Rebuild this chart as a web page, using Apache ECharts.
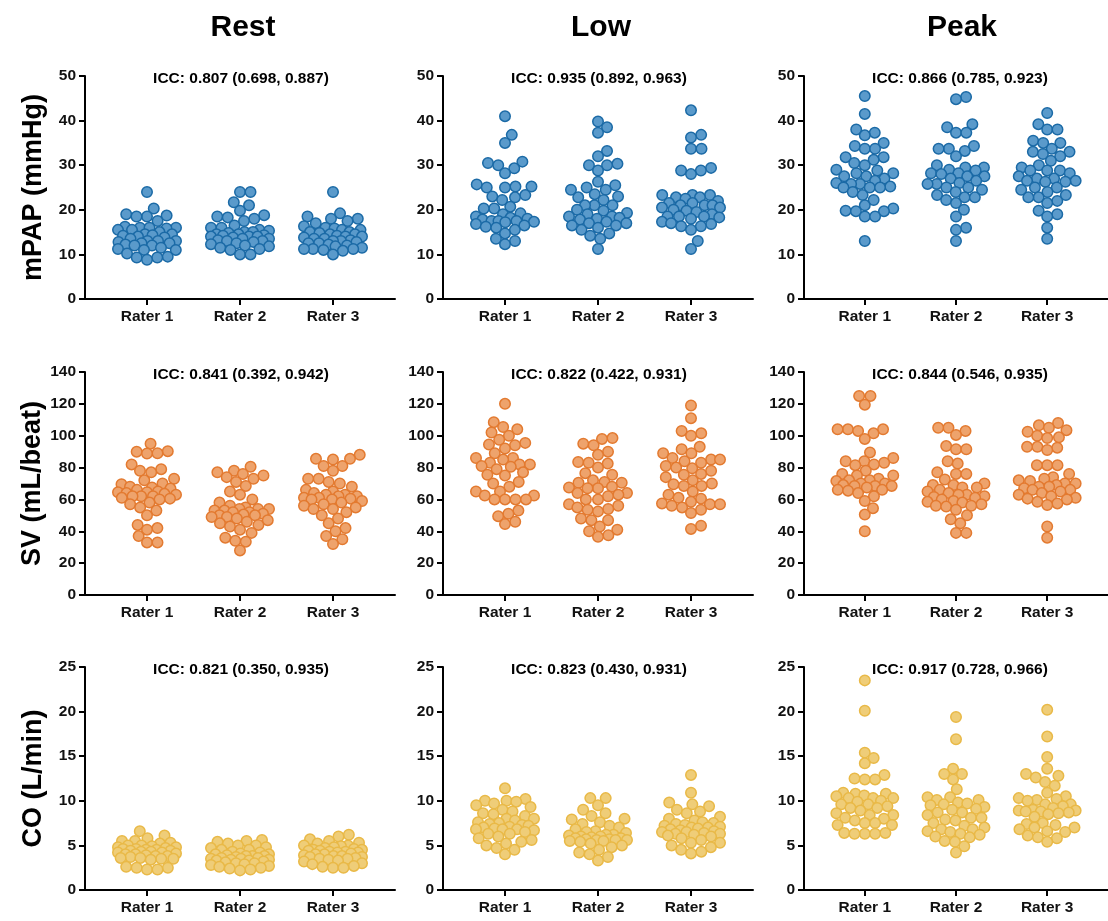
<!DOCTYPE html>
<html>
<head>
<meta charset="utf-8">
<script src="https://cdn.jsdelivr.net/npm/echarts@6/dist/echarts.min.js"></script>
<style>
  html, body { margin: 0; padding: 0; background: #fff; }
  #chart { width: 1108px; height: 921px; }
</style>
</head>
<body>
<div id="chart"></div>
<script>
// ---- data ---------------------------------------------------------------
const raters = ['Rater 1', 'Rater 2', 'Rater 3'];
const phases = ['Rest', 'Low', 'Peak'];
const measures = ['mPAP (mmHg)', 'SV (mL/beat)', 'CO (L/min)'];
const yMaxes = [50, 140, 25];
const yIntervals = [10, 20, 5];

const iccMpap = ['ICC: 0.807 (0.698, 0.887)', 'ICC: 0.935 (0.892, 0.963)', 'ICC: 0.866 (0.785, 0.923)'];
const iccSv   = ['ICC: 0.841 (0.392, 0.942)', 'ICC: 0.822 (0.422, 0.931)', 'ICC: 0.844 (0.546, 0.935)'];
const iccCo   = ['ICC: 0.821 (0.350, 0.935)', 'ICC: 0.823 (0.430, 0.931)', 'ICC: 0.917 (0.728, 0.966)'];

// mPAP (mmHg), one list per rater
const mpapRest = [
  [24, 20.3, 19, 18.7, 18.5, 18.5, 17.5, 16.2, 16, 16, 16, 15.8, 15.5, 15.5, 15, 14.5, 14.5, 14.3, 14.2, 14, 13.8, 13.5, 13, 13, 13, 12.8, 12.5, 12.5, 12.2, 12, 12, 11.5, 11.2, 11, 11, 10.2, 9.5, 9.3, 9.3, 8.8],
  [24, 24, 21.7, 21, 19.8, 18.8, 18.5, 18.3, 18, 17.5, 16.5, 16, 16, 15.5, 15.3, 15, 15, 14.8, 14.5, 14.5, 14.3, 14.2, 14, 14, 14, 13.8, 13.5, 13.5, 13.2, 13, 13, 12.8, 12.5, 12.3, 12, 11.8, 11.5, 11.2, 11, 10, 10],
  [24, 19.2, 18.5, 18, 18, 17.5, 17, 16.3, 16, 15.8, 15.5, 15.5, 15, 15, 14.8, 14.5, 14.5, 14.2, 14, 14, 13.8, 13.5, 13.5, 13.2, 13, 13, 12.8, 12.5, 12.5, 12.2, 12, 11.8, 11.5, 11.2, 11.2, 11.2, 11, 10.8, 10]
];
const mpapLow = [
  [41, 36.8, 35, 30.8, 30.5, 30, 29.3, 28.2, 25.7, 25.2, 25.2, 25, 25, 23.3, 23, 22.8, 22.2, 20.7, 20.3, 20.3, 19.2, 19, 18.5, 18.2, 18, 17.8, 17.5, 17.5, 17.5, 17.3, 17.2, 16.8, 16.5, 16.2, 16, 15.5, 14.7, 13.5, 13, 12.3],
  [39.8, 38.5, 37.3, 33.2, 32, 30.3, 30, 30, 28.8, 26.3, 25.5, 25, 24.5, 24.5, 23.5, 23, 22.8, 22.2, 21, 21, 21, 20, 19.8, 19.3, 19, 18.5, 18.5, 18.2, 18, 17.8, 17.3, 17, 17, 16.5, 16.5, 16, 15.5, 14.7, 14.2, 13.5, 11.2],
  [42.3, 36.8, 36.2, 33.7, 33.7, 29.4, 28.8, 28.8, 28, 23.3, 23.3, 23.3, 22.8, 22.8, 22.5, 22, 21.5, 21.5, 21, 21, 21, 20.5, 20.5, 20, 19.8, 19.5, 19, 18.5, 18.5, 18.5, 18.3, 18, 17.3, 17, 16.8, 16.3, 16.3, 15.5, 13, 11.2]
];
const mpapPeak = [
  [45.5, 41.5, 38, 37.3, 36.7, 35, 34.3, 33.7, 33.7, 31.8, 31.8, 31.2, 30.5, 30, 29, 28.8, 28.2, 28.2, 27.5, 27.5, 27, 26.5, 26, 25.8, 25.8, 25.2, 25, 25, 25, 24, 23.3, 22.2, 21, 20.3, 19.8, 19.7, 19.7, 18.5, 18.5, 13],
  [45.3, 44.8, 39.2, 38.5, 37.3, 37.3, 34.3, 33.7, 33.7, 33.2, 32, 30, 29.5, 29.5, 29, 28.8, 28.2, 28.2, 28, 27.5, 27.5, 27, 26.5, 26, 25.8, 25.8, 25, 25, 24.5, 24, 23.3, 22.8, 22.8, 22.2, 21.5, 20, 18.5, 16, 15.5, 13],
  [41.7, 39.2, 38, 38, 35.5, 35, 35, 33.7, 33, 33, 32.5, 32, 31, 30, 29.5, 28.8, 28.8, 28.8, 28.2, 27.5, 27, 27, 26.5, 26.5, 26.3, 26.3, 25, 25, 24.5, 24, 23.3, 22.8, 22.8, 22, 21.5, 19.8, 19, 18.5, 16, 13.5]
];

// SV (mL/beat)
const svRest = [
  [95, 90.3, 90, 89, 88.8, 82, 79, 78, 77, 73, 72, 70, 69.5, 68, 67.5, 66.8, 66, 65, 64.5, 64.5, 64, 63.5, 63, 62, 62, 62, 61, 60.5, 60, 58, 57, 55, 53, 50, 44, 42, 41, 37, 33, 33],
  [80.5, 78, 77, 76, 75, 74, 73, 71, 68.5, 65, 63, 60, 58, 56, 55, 54, 54, 54, 53, 53, 52, 52, 51, 50.5, 50, 50, 49, 49, 48, 47, 46, 45, 44, 43, 41, 39, 36, 34, 33.5, 28],
  [88, 85.5, 85.5, 85, 81, 81, 78, 73, 73, 71, 70, 68, 66, 65, 64, 63, 63, 62, 62, 61, 61, 60.5, 60, 60, 59, 58, 57, 56, 55, 54, 54, 52, 50, 48, 45, 42, 40, 37, 35, 32]
];
const svLow = [
  [120, 108.5, 105.5, 104, 102, 100, 97.5, 95.5, 94.5, 94, 92, 89, 86, 86, 85, 83, 82, 82, 81, 80.5, 79, 77, 75.5, 75, 71, 70, 68, 65, 65, 62.5, 62.5, 60, 60, 60, 60, 53, 51, 49.5, 46, 44.5],
  [98.5, 98, 95, 94, 90, 88, 83.5, 83, 82.5, 80, 76.5, 75.5, 72, 71, 70.5, 70.5, 68, 67.5, 67, 67, 64, 64, 63, 62, 60, 60, 57, 56, 55, 54, 53.5, 52.5, 48, 47, 47, 43, 41, 40, 37.5, 36.5],
  [119, 111, 103, 101.5, 100, 93, 91.5, 89, 89, 86, 85, 85, 84, 83, 81, 80, 79.5, 78, 76, 75.5, 74, 72, 70, 69.5, 68.5, 68.5, 65, 63, 61, 60.5, 58.5, 57.5, 57, 57, 56, 55, 53.5, 51.5, 43.5, 41.5]
];
const svPeak = [
  [125, 125, 119.5, 104, 104, 104, 103, 101.5, 98, 89.5, 86, 84, 84, 83, 82, 81.5, 78, 76, 75, 75, 73, 72, 72, 71.5, 70, 70, 69, 68.5, 68.5, 68.5, 67.5, 66, 66, 65.5, 64, 62, 59, 54.5, 50.5, 40],
  [105, 105, 103, 100.5, 93.5, 91.5, 91.5, 84, 82.5, 77, 76, 76, 72.5, 70, 69, 69, 67.5, 67.5, 66, 65, 64, 63, 63, 62, 61.5, 61, 60, 59, 58.5, 58, 57, 56, 56, 55.5, 53.5, 50, 47.5, 45, 39, 39],
  [108, 106.5, 105, 103.5, 102.5, 100, 99, 98.5, 93, 93, 92.5, 91, 81.5, 81.5, 81.5, 76, 74, 73, 72, 71.5, 70, 70, 69, 68, 68, 67, 66, 66, 65, 64, 63, 62, 61, 60.5, 60, 58.5, 57.5, 56.5, 43, 36]
];

// CO (L/min)
const coRest = [
  [6.6, 6.1, 5.8, 5.5, 5.5, 5.3, 5.2, 5.0, 5.0, 4.9, 4.8, 4.8, 4.7, 4.6, 4.6, 4.5, 4.5, 4.4, 4.4, 4.3, 4.3, 4.2, 4.2, 4.1, 4.0, 4.0, 3.9, 3.8, 3.8, 3.7, 3.6, 3.6, 3.5, 3.5, 3.4, 2.6, 2.5, 2.5, 2.3, 2.3],
  [5.6, 5.5, 5.4, 5.2, 5.0, 5.0, 4.8, 4.7, 4.5, 4.5, 4.3, 4.2, 4.1, 4.0, 4.0, 3.9, 3.8, 3.8, 3.8, 3.7, 3.6, 3.6, 3.5, 3.5, 3.4, 3.4, 3.3, 3.3, 3.2, 3.1, 3.0, 3.0, 2.9, 2.8, 2.7, 2.6, 2.5, 2.4, 2.3, 2.2],
  [6.2, 6.0, 5.7, 5.5, 5.3, 5.2, 5.0, 5.0, 4.9, 4.8, 4.7, 4.6, 4.5, 4.5, 4.4, 4.4, 4.3, 4.3, 4.2, 4.2, 4.1, 4.0, 4.0, 3.9, 3.8, 3.8, 3.7, 3.7, 3.6, 3.5, 3.5, 3.4, 3.3, 3.2, 3.0, 2.9, 2.7, 2.6, 2.5, 2.5]
];
const coLow = [
  [11.4, 10.2, 10.0, 10.0, 9.9, 9.7, 9.5, 9.3, 9.0, 8.8, 8.6, 8.5, 8.3, 8.0, 8.0, 7.8, 7.6, 7.5, 7.4, 7.3, 7.2, 7.1, 7.0, 6.9, 6.8, 6.8, 6.8, 6.7, 6.5, 6.3, 6.3, 6.0, 5.8, 5.6, 5.4, 5.2, 5.0, 4.7, 4.5, 4.0],
  [10.3, 10.3, 9.5, 9.0, 8.6, 8.3, 8.0, 7.9, 7.6, 7.4, 7.2, 7.0, 6.8, 6.6, 6.5, 6.4, 6.2, 6.2, 6.1, 6.0, 6.0, 5.9, 5.8, 5.8, 5.7, 5.7, 5.6, 5.6, 5.6, 5.5, 5.5, 5.4, 5.2, 5.0, 4.8, 4.5, 4.2, 4.0, 3.7, 3.3],
  [12.9, 10.9, 9.8, 9.6, 9.4, 9.0, 8.8, 8.6, 8.2, 8.0, 7.8, 7.6, 7.5, 7.4, 7.3, 7.2, 7.1, 7.0, 7.0, 6.9, 6.8, 6.7, 6.6, 6.5, 6.5, 6.4, 6.3, 6.3, 6.2, 6.1, 6.0, 5.8, 5.6, 5.3, 5.3, 5.0, 4.8, 4.5, 4.3, 4.1]
];
const coPeak = [
  [23.5, 20.1, 15.4, 14.8, 14.2, 12.9, 12.5, 12.4, 12.4, 10.9, 10.8, 10.8, 10.6, 10.5, 10.3, 10.3, 10.3, 10.0, 9.9, 9.6, 9.6, 9.4, 9.2, 9.2, 8.9, 8.6, 8.4, 8.4, 8.1, 8.0, 7.8, 7.5, 7.5, 7.3, 7.3, 6.4, 6.4, 6.3, 6.3, 6.3],
  [19.4, 16.9, 13.6, 13.0, 13.0, 12.4, 11.3, 10.4, 10.4, 10.1, 10.1, 9.8, 9.7, 9.6, 9.5, 9.3, 9.1, 9.0, 8.7, 8.7, 8.4, 8.1, 8.1, 7.9, 7.8, 7.5, 7.2, 7.0, 6.8, 6.8, 6.6, 6.5, 6.3, 6.2, 6.0, 5.9, 5.5, 5.4, 4.9, 4.2],
  [20.2, 17.2, 14.9, 13.6, 13.0, 12.8, 12.6, 12.1, 11.7, 10.9, 10.5, 10.3, 10.2, 10.1, 10.0, 9.6, 9.6, 9.4, 9.2, 9.0, 8.9, 8.9, 8.8, 8.8, 8.7, 8.6, 8.5, 8.2, 7.5, 7.4, 7.3, 7.0, 7.0, 6.8, 6.6, 6.5, 6.1, 5.9, 5.8, 5.4]
];

// ---- layout -------------------------------------------------------------
const panels = [
  [mpapRest, mpapLow, mpapPeak],
  [svRest, svLow, svPeak],
  [coRest, coLow, coPeak]
];
const iccText = [iccMpap, iccSv, iccCo];

const colLeft = [85, 443, 804];
const rowTop = [76, 372, 667];
const plotH = 223;
const plotW = 310;
const xMin = 1 / 3, xMax = 11 / 3;
const pxPerX = plotW / (xMax - xMin);

const fills   = ['#5a9acb', '#eea36c', '#efcd78'];
const borders = ['#1b6aa6', '#e37a30', '#e9b947'];
const FONT = '"Liberation Sans", Arial, sans-serif';

// Beeswarm: place each value (sorted) at the horizontal offset closest to the
// centre line that keeps it clear of the points already placed; when the swarm
// would grow too wide, pick the spot inside the limit that overlaps least.
function swarmOffsets(values, pxPerY, diam, maxHalf) {
  const order = values.map((v, i) => i).sort((a, b) => values[a] - values[b]);
  const placed = [];
  const out = new Array(values.length).fill(0);
  const d2 = diam * diam;
  for (const i of order) {
    const y = values[i] * pxPerY;
    const near = placed.filter(p => Math.abs(p.y - y) < diam);
    const cands = [0];
    for (const p of near) {
      const dx = Math.sqrt(d2 - (p.y - y) * (p.y - y));
      cands.push(p.x + dx, p.x - dx);
    }
    const free = cands.filter(c =>
      Math.abs(c) <= maxHalf &&
      near.every(p => (p.x - c) * (p.x - c) + (p.y - y) * (p.y - y) >= d2 - 1e-6));
    let x;
    if (free.length) {
      free.sort((a, b) => Math.abs(a) - Math.abs(b));
      x = free[0];
    } else {
      let best = 0, bestD = -1;
      for (let c = -maxHalf; c <= maxHalf; c += 0.5) {
        let m = Infinity;
        for (const p of near) m = Math.min(m, (p.x - c) * (p.x - c) + (p.y - y) * (p.y - y));
        if (m > bestD + 1e-9 || (Math.abs(m - bestD) < 1e-9 && Math.abs(c) < Math.abs(best))) { bestD = m; best = c; }
      }
      x = best;
    }
    placed.push({ x, y });
    out[i] = x;
  }
  return out;
}

const grid = [], xAxis = [], yAxis = [], series = [], title = [];

phases.forEach((ph, c) => {
  title.push({
    text: ph, left: colLeft[c] + (2 - xMin) * pxPerX - 2, top: 8, textAlign: 'center',
    textStyle: { fontFamily: FONT, fontSize: 30, fontWeight: 'bold', color: '#000' }
  });
});

for (let r = 0; r < 3; r++) {
  for (let c = 0; c < 3; c++) {
    const k = r * 3 + c;
    grid.push({ left: colLeft[c], top: rowTop[r], width: plotW, height: plotH });
    xAxis.push({
      gridIndex: k, type: 'value', min: xMin, max: xMax,
      axisLine: { show: true, onZero: false, lineStyle: { color: '#000', width: 2 } },
      axisTick: { show: true, customValues: [1, 2, 3], length: 6, lineStyle: { color: '#000', width: 2 } },
      axisLabel: {
        customValues: [1, 2, 3], margin: 10,
        formatter: v => raters[Math.round(v) - 1] || '',
        fontFamily: FONT, fontSize: 15.5, fontWeight: 'bold', color: '#111'
      },
      splitLine: { show: false }
    });
    yAxis.push({
      gridIndex: k, type: 'value', min: 0, max: yMaxes[r], interval: yIntervals[r],
      name: c === 0 ? measures[r] : '', nameLocation: 'middle', nameRotate: 90, nameGap: 38,
      nameTextStyle: { fontFamily: FONT, fontSize: 27, fontWeight: 'bold', color: '#000' },
      axisLine: { show: true, lineStyle: { color: '#000', width: 2 } },
      axisTick: { show: true, length: 6, lineStyle: { color: '#000', width: 2 } },
      axisLabel: { margin: 9, fontFamily: FONT, fontSize: 15.5, fontWeight: 'bold', color: '#111' },
      splitLine: { show: false }
    });
    const pxPerY = plotH / yMaxes[r];
    const data = [];
    panels[r][c].forEach((vals, g) => {
      const offs = swarmOffsets(vals, pxPerY, 10.5, 29);
      vals.forEach((v, i) => data.push([g + 1 + offs[i] / pxPerX, v]));
    });
    series.push({
      type: 'scatter', xAxisIndex: k, yAxisIndex: k, data,
      symbol: 'circle', symbolSize: 10.5,
      itemStyle: { color: fills[r], borderColor: borders[r], borderWidth: 1.5, opacity: 1 },
      emphasis: { disabled: true }
    });
    title.push({
      text: iccText[r][c], left: colLeft[c] + (2 - xMin) * pxPerX - 4, top: rowTop[r] - 10,
      textAlign: 'center',
      textStyle: { fontFamily: FONT, fontSize: 15.5, fontWeight: 'bold', color: '#000' }
    });
  }
}

const chart = echarts.init(document.getElementById('chart'), null, { renderer: 'canvas' });
chart.setOption({ animation: false, backgroundColor: '#fff', title, grid, xAxis, yAxis, series });
</script>
</body>
</html>
